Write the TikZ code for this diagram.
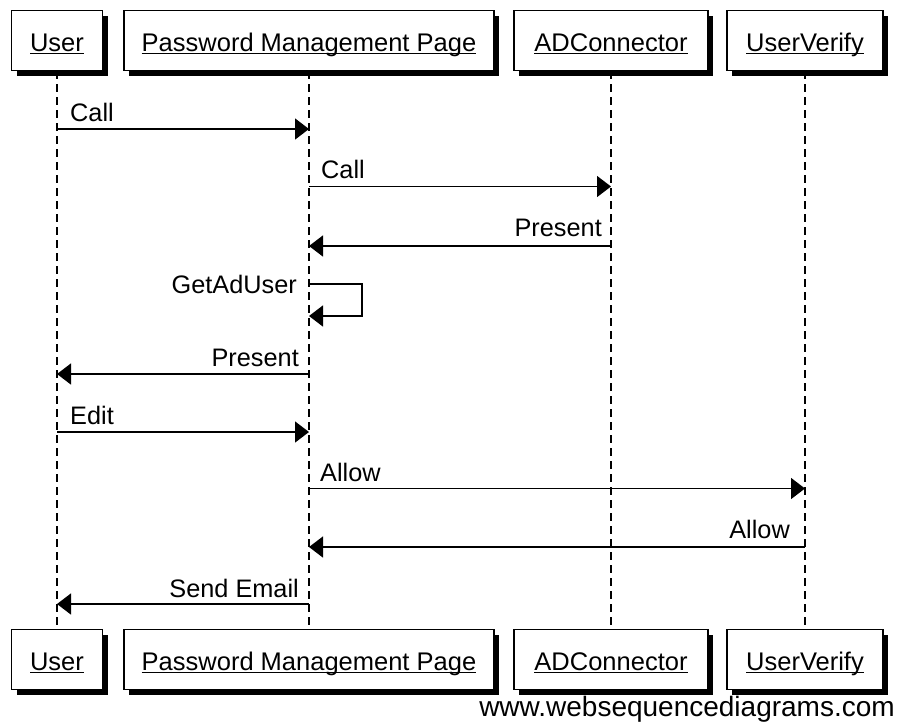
\documentclass[tikz,border=0pt]{standalone}
\usepackage{fontspec}
\setmainfont{Liberation Sans}
\usetikzlibrary{arrows.meta,shadows}
\newcommand\ulbl[1]{\setbox0\hbox{#1}\rlap{\rule[-2.8pt]{\wd0}{1.3pt}}\box0}
\begin{document}
\begin{tikzpicture}[x=1pt,y=-1pt,
  actor/.style={draw=black, line width=1.4pt, fill=white, minimum height=60pt,
    inner sep=0pt, font=\fontsize{25.5}{30}\selectfont, text height=24pt, text depth=2pt,
    drop shadow={shadow xshift=5pt, shadow yshift=-5pt, opacity=1, fill=black}},
  lifeline/.style={line width=1.3pt, dash pattern=on 8pt off 5pt},
  msg/.style={line width=1.4pt, -{Triangle[length=14pt,width=21pt]}},
  lbl/.style={font=\fontsize{25.3}{29}\selectfont, inner sep=0pt},
  lblL/.style={lbl, anchor=base west},
  lblR/.style={lbl, anchor=base east}]
\useasboundingbox (0,0) rectangle (901,724);
% top actors
\node[actor, minimum width=91pt]  (userT) at (57,40.5)  {\ulbl{User}};
\node[actor, minimum width=370pt] (pmpT)  at (309,40.5) {\ulbl{Password Management Page}};
\node[actor, minimum width=194pt] (adT)   at (611,40.5) {\ulbl{ADConnector}};
\node[actor, minimum width=156pt] (uvT)   at (805,40.5) {\ulbl{UserVerify}};
% bottom actors
\node[actor, minimum width=91pt]  (userB) at (57,659.5)  {\ulbl{User}};
\node[actor, minimum width=370pt] (pmpB)  at (309,659.5) {\ulbl{Password Management Page}};
\node[actor, minimum width=194pt] (adB)   at (611,659.5) {\ulbl{ADConnector}};
\node[actor, minimum width=156pt] (uvB)   at (805,659.5) {\ulbl{UserVerify}};
% lifelines
\draw[lifeline] (userT.south) -- (userB.north);
\draw[lifeline] (pmpT.south) -- (pmpB.north);
\draw[lifeline] (adT.south) -- (adB.north);
\draw[lifeline] (uvT.south) -- (uvB.north);
% messages
\draw[msg] (userT.south |- 0,129) -- (pmpT.south |- 0,129);
\node[lblL] (l1) at (70,121) {Call};
\draw[msg] (pmpT.south |- 0,186.5) -- (adT.south |- 0,186.5);
\node[lblL] (l2) at (321,178) {Call};
\draw[msg] (adT.south |- 0,246) -- (pmpT.south |- 0,246);
\node[lblR] (l3) at (602,236) {Present};
\coordinate (s1) at (362,284);
\coordinate (s2) at (362,316);
\draw[msg] (pmpT.south |- 0,284) -- (s1) -- (s2) -- (pmpT.south |- 0,316);
\node[lblR] (l4) at (297,293) {GetAdUser};
\draw[msg] (pmpT.south |- 0,374) -- (userT.south |- 0,374);
\node[lblR] (l5) at (299,366) {Present};
\draw[msg] (userT.south |- 0,432) -- (pmpT.south |- 0,432);
\node[lblL] (l6) at (70,424) {Edit};
\draw[msg] (pmpT.south |- 0,488.5) -- (uvT.south |- 0,488.5);
\node[lblL] (l7) at (320,481) {Allow};
\draw[msg] (uvT.south |- 0,547) -- (pmpT.south |- 0,547);
\node[lblR] (l8) at (790,538) {Allow};
\draw[msg] (pmpT.south |- 0,604) -- (userT.south |- 0,604);
\node[lblR] (l9) at (299,597) {Send Email};
% watermark
\node[lbl, anchor=base east, font=\fontsize{28}{32}\selectfont] (wm) at (895,716) {www.websequencediagrams.com};
\end{tikzpicture}
\end{document}
